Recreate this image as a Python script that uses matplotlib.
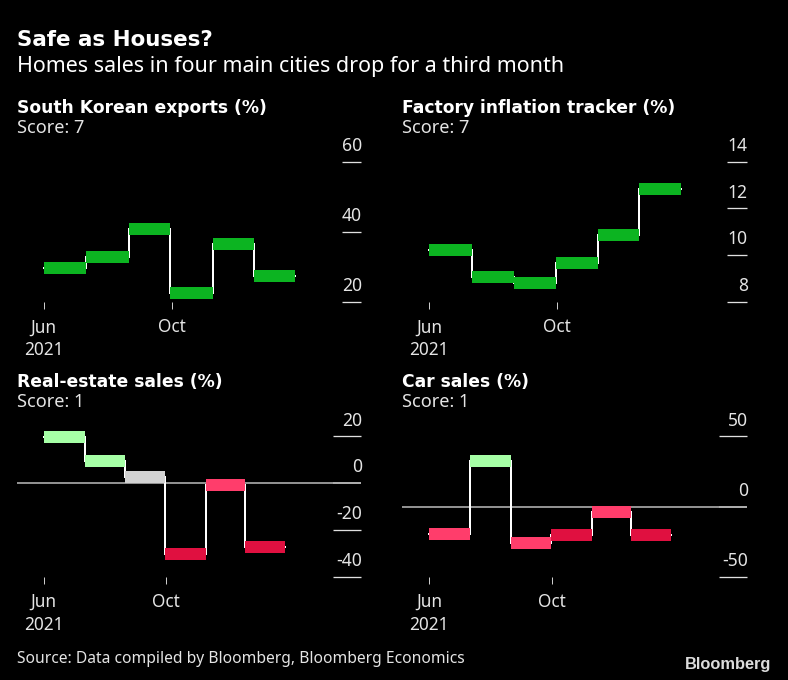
import numpy as np
import matplotlib
matplotlib.use("Agg")
import matplotlib.pyplot as plt
from matplotlib.transforms import ScaledTranslation

# ---- data ----
month_days = [31, 31, 30, 31, 30, 30]
x_tick_days = [0, 93]
x_tick_labels = ["Jun\n2021", "Oct"]

titles = ["South Korean exports (%)", "Factory inflation tracker (%)",
          "Real-estate sales (%)", "Car sales (%)"]
scores = ["Score: 7", "Score: 7", "Score: 1", "Score: 1"]

exports = [29.7, 32.7, 40.8, 22.7, 36.5, 27.5]
factory = [10.23, 9.08, 8.83, 9.65, 10.85, 12.82]
real_estate = [19.7, 9.5, 2.4, -30.4, -0.9, -27.4]
car_sales = [-19.7, 32.3, -25.7, -20.4, -4.0, -20.4]
series = [exports, factory, real_estate, car_sales]

y_ticks = [[20, 40, 60], [8, 10, 12, 14], [-40, -20, 0, 20], [-50, 0, 50]]

G, L, N, P, R = "#0CB421", "#A6FFA6", "#D2D2D2", "#FF3D6B", "#E01040"
bar_colors = [[G] * 6, [G] * 6,
              [L, L, N, R, P, R],
              [P, L, P, R, P, R]]

# ---- layout (pixels) ----
W, H = 788, 680
DPI = 100
BG = "#000000"
TXT = "#E4E4E4"
ZERO = "#B4B4B4"
FONT = "Noto Sans"
BOLD = "DejaVu Sans"

# axes box: left, right, top, bottom ; x pixel of day 0 and last day
boxes = [(17, 361, 161.7, 302.0, 43.7, 295.3),
         (402, 747, 161.7, 302.0, 429.3, 680.7),
         (17, 361, 436.3, 576.7, 43.7, 285.0),
         (402, 747, 436.3, 576.7, 429.3, 670.7)]
ytick_len_px = [19, 20, 28, 28]
title_base = [112.7, 112.7, 386.7, 386.7]
score_base = [132.7, 132.7, 406.7, 406.7]

px = lambda p: p * 72 / DPI

fig = plt.figure(figsize=(W / DPI, H / DPI), dpi=DPI, facecolor=BG)


def ftext(x, y, s, **kw):
    return fig.text(x / W, 1 - y / H, s, va="baseline", ha=kw.pop("ha", "left"), **kw)


ftext(17, 46, "Safe as Houses?", color="white", fontsize=15.4, fontweight="bold", family=BOLD)
ftext(17, 71.7, "Homes sales in four main cities drop for a third month",
      color="white", fontsize=15.45, family=FONT)

edges = np.concatenate([[0], np.cumsum(month_days)])

for i, (vals, cols, yt) in enumerate(zip(series, bar_colors, y_ticks)):
    l, r, t, b, x0, x1 = boxes[i]
    ax = fig.add_axes([l / W, 1 - b / H, (r - l) / W, (b - t) / H], facecolor=BG)
    scale = (x1 - x0) / edges[-1]
    ax.set_xlim((l - x0) / scale, (r - x0) / scale)
    ax.set_ylim(yt[0], yt[-1])
    for s in ax.spines.values():
        s.set_visible(False)

    if 0 in yt:
        ax.axhline(0, color=ZERO, lw=px(1.6), zorder=1)

    # white connector
    ax.step(edges, list(vals) + [vals[-1]], where="post", color="white",
            lw=px(2.0), zorder=2, solid_joinstyle="miter", clip_on=False)
    # thick level bars
    ax.hlines(vals, edges[:-1], edges[1:], colors=cols, lw=px(12), zorder=3,
              capstyle="butt", clip_on=False)

    ax.set_xticks(x_tick_days)
    ax.set_xticklabels(x_tick_labels, fontsize=12.4, family=FONT, color=TXT,
                       linespacing=1.32)
    ax.tick_params(axis="x", direction="out", length=px(6.5), width=px(1),
                   color="#CCCCCC", pad=px(10))
    ax.yaxis.tick_right()
    ax.set_yticks(yt)
    ax.set_yticklabels([str(v) for v in yt], fontsize=12.6, family=FONT, color=TXT)
    ax.tick_params(axis="y", direction="in", length=px(ytick_len_px[i]),
                   width=px(1.3), color="#E0E0E0", pad=0)
    for v, tick in zip(yt, ax.yaxis.get_major_ticks()):
        if v == 0:
            tick.tick2line.set_markeredgecolor(ZERO)
            tick.tick2line.set_markeredgewidth(px(1.6))
    off = ScaledTranslation(px(0.8) / 72, px(6.8) / 72, fig.dpi_scale_trans)
    for lab in ax.get_yticklabels():
        lab.set_ha("right")
        lab.set_va("bottom")
        lab.set_transform(lab.get_transform() + off)

    ftext(l, title_base[i], titles[i], color="white", fontsize=12.3, fontweight="bold", family=BOLD)
    ftext(l, score_base[i], scores[i], color=TXT, fontsize=13.1, family=FONT)

ftext(17, 663, "Source: Data compiled by Bloomberg, Bloomberg Economics",
      color=TXT, fontsize=11.25, family=FONT)
ftext(771, 669.5, "Bloomberg", ha="right", color="#DCDCDC", fontsize=11.8,
      fontweight="bold", family="Liberation Sans")

fig.savefig("out.png", dpi=DPI, facecolor=BG)
